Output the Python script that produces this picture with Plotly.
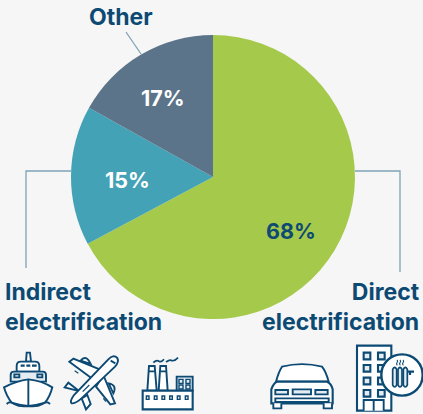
import re
import plotly.graph_objects as go

categories = ["Direct electrification", "Indirect electrification", "Other"]
values = [68, 15, 17]
slice_shares = [67.2, 15.9, 16.9]
colors = ["#a5c94b", "#43a2b6", "#5b7489"]
text_colors = ["#0e4a73", "#ffffff", "#ffffff"]
label_positions = [(291, 231), (127, 180), (163, 98)]

W, H = 423, 414
CX, CY, R = 213, 177, 142
NAVY = "#0c4a74"
LEAD = "#7fa3b5"
FILL = "#e6edf2"
FONT = "Inter"

fig = go.Figure(go.Pie(
    labels=categories, values=slice_shares, sort=False, direction="clockwise", rotation=0,
    marker=dict(colors=colors, line=dict(width=0)),
    textinfo="none",
    domain=dict(x=[(CX-R)/W, (CX+R)/W], y=[1-(CY+R)/H, 1-(CY-R)/H]),
    hoverinfo="label", showlegend=False,
))

shapes = []

def path(d, ox, oy, fill=None, width=1.9, color=NAVY, scale=1/3):
    """Icon paths are written in 3x crop units and mapped to page pixels."""
    i = [0]
    def rep(m):
        v = float(m.group(0)) * scale
        v += ox if i[0] % 2 == 0 else oy
        i[0] += 1
        return f"{v:.2f}"
    s = re.sub(r"-?\d+\.?\d*", rep, d)
    shapes.append(dict(type="path", xref="x", yref="y", path=s, layer="above",
                       line=dict(color=color, width=width),
                       fillcolor=fill if fill else "rgba(0,0,0,0)"))

# leader lines (page pixels)
path("M126 32 L141 54", 0, 0, width=1.3, color=LEAD, scale=1)
path("M71 171 L26 171 L26 268", 0, 0, width=1.3, color=LEAD, scale=1)
path("M355 171 L400 171 L400 272", 0, 0, width=1.3, color=LEAD, scale=1)

# ship
ox, oy = 0, 330
path("M78 95 L80 68 L90 68 L93 95 Z", ox, oy, "#ffffff")
path("M50 125 L50 108 Q50 95 63 95 L105 95 Q118 95 118 108 L118 125 Z", ox, oy, "#ffffff")
path("M62 107 L74 107 M79 107 L91 107 M96 107 L110 107", ox, oy, width=2.2)
path("M32 155 L32 135 Q32 125 42 125 L128 125 Q138 125 138 135 L138 155 Z", ox, oy, FILL)
path("M43 133 L58 133 L58 142 L43 142 Z M112 133 L127 133 L127 142 L112 142 Z", ox, oy, FILL)
path("M12 172 Q50 152 85 148 Q125 152 157 172 Q150 200 135 218 Q110 226 85 228 Q60 226 35 218 Q20 200 12 172 Z", ox, oy, "#ffffff")
path("M85 148 L85 228", ox, oy)
path("M20 222 Q30 212 42 222 Q60 232 85 228 Q110 232 128 222 Q140 212 150 222", ox, oy)

# plane
path("M220 86 L208 95 L282 150 L308 122 Z", ox, oy, "#ffffff")
path("M242 92 Q258 72 272 102 Z", ox, oy, "#ffffff")
path("M310 135 L345 220 L331 223 L288 170 Z", ox, oy, "#ffffff")
path("M326 160 Q352 165 340 190 Z", ox, oy, "#ffffff")
path("M240 185 L205 158 L194 172 L232 182 Z M262 195 L272 222 L258 238 L245 205 Z", ox, oy, "#ffffff")
path("M352 84 Q340 72 325 88 L222 195 Q208 215 215 220 Q228 222 250 200 L345 110 Q358 95 352 84 Z", ox, oy, "#ffffff")
path("M332 92 L346 100", ox, oy)
path("M235 130 L224 122 M310 205 L318 215 M248 185 L268 165", ox, oy, width=1.2)

# factory
path("M442 182 L447 108 L464 108 L470 182 Z M476 182 L481 108 L498 108 L503 182 Z", ox, oy, "#ffffff")
path("M447 124 L464 124 M481 124 L498 124", ox, oy)
path("M530 182 L530 140 L578 140 L578 182 Z", ox, oy, FILL)
path("M537 148 L549 148 L549 160 L537 160 Z M558 148 L570 148 L570 160 L558 160 Z M537 165 L549 165 L549 177 L537 177 Z M558 165 L570 165 L570 177 L558 177 Z", ox, oy, FILL, width=1.4)
path("M428 182 L578 182 L578 238 L428 238 Z", ox, oy, "#ffffff", width=2.1)
for x in (443, 467, 490, 513, 536, 560):
    path(f"M{x-4} 198 L{x+4} 198 L{x+4} 208 L{x-4} 208 Z", ox, oy, FILL, width=1.4)
path("M460 98 Q470 88 477 94 Q484 98 492 88 M498 96 Q510 88 516 92 Q524 94 534 83", ox, oy, width=1.7)

# car
ox, oy = 212, 330
path("M192 155 Q200 125 210 110 Q270 95 330 110 Q342 125 350 155 Z", ox, oy, "#ffffff")
path("M178 178 Q185 158 195 155 L345 155 Q358 160 362 178 L362 220 L178 220 Z", ox, oy, "#ffffff", width=2.1)
path("M190 180 L228 180 L228 193 L190 193 Z M242 178 L297 178 L297 193 L242 193 Z M310 180 L347 180 L347 193 L310 193 Z", ox, oy, FILL)
path("M190 205 L350 205 L350 216 L190 216 Z", ox, oy)
path("M184 220 L184 235 L208 235 L208 220 M335 220 L335 235 L360 235 L360 220", ox, oy, "#ffffff")

# building with radiator
path("M435 47 L538 47 L538 242 L435 242 Z", ox, oy, "#ffffff", width=2.1)
for y in (68, 105, 143, 180):
    for x in (455, 498):
        path(f"M{x} {y} L{x+20} {y} L{x+20} {y+20} L{x} {y+20} Z", ox, oy, FILL, width=2.1)
path("M455 242 L455 210 L515 210 L515 242 M485 210 L485 242", ox, oy, "#ffffff")
path("M632 135 C632 100 605 73 570 73 C535 73 508 100 508 135 C508 170 535 197 570 197 C605 197 632 170 632 135 Z", ox, oy, "#ffffff", width=2.4)
for x in (542, 558, 574):
    path(f"M{x} 118 Q{x+6} 106 {x+12} 118 L{x+12} 165 Q{x+6} 177 {x} 165 Z", ox, oy, FILL, width=1.7)
path("M586 125 L606 125 M594 125 L594 135", ox, oy, width=2.2)
for x in (555, 564, 573):
    path(f"M{x} 90 Q{x+4} 94 {x} 98 Q{x-3} 102 {x+1} 106", ox, oy, width=1.1)

annotations = [
    dict(xref="x", yref="y", x=121, y=17, text="<b>Other</b>", showarrow=False,
         font=dict(family=FONT, size=23, color=NAVY), xanchor="center", yanchor="middle"),
    dict(xref="x", yref="y", x=5, y=306.5, text="<b>Indirect<br>electrification</b>", showarrow=False, align="left",
         font=dict(family=FONT, size=23, color=NAVY), xanchor="left", yanchor="middle", xshift=-2),
    dict(xref="x", yref="y", x=420, y=306.5, text="<b>Direct<br>electrification</b>", showarrow=False, align="right",
         font=dict(family=FONT, size=23, color=NAVY), xanchor="right", yanchor="middle", xshift=2),
]
for v, c, (x, y) in zip(values, text_colors, label_positions):
    annotations.append(dict(xref="x", yref="y", x=x, y=y, text=f"<b>{v}%</b>", showarrow=False,
                            font=dict(family=FONT, size=21.5, color=c), xanchor="center", yanchor="middle"))

fig.update_layout(
    width=W, height=H, margin=dict(l=0, r=0, t=0, b=0),
    paper_bgcolor="#f6f6f6", plot_bgcolor="rgba(0,0,0,0)",
    xaxis=dict(range=[0, W], visible=False, domain=[0, 1], fixedrange=True),
    yaxis=dict(range=[H, 0], visible=False, domain=[0, 1], fixedrange=True),
    shapes=shapes,
    annotations=annotations,
)
fig.add_trace(go.Scatter(x=[None], y=[None], showlegend=False, hoverinfo="skip"))
fig.write_html("out.html", config=dict(displayModeBar=False),
               post_script="document.body.style.margin='0';document.body.style.background='#f6f6f6';document.body.style.overflow='hidden';")
